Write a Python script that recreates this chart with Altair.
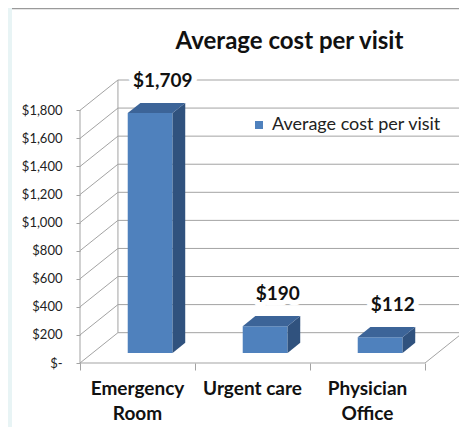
import altair as alt
import pandas as pd

# ---- data ----
CATEGORIES = ["Emergency Room", "Urgent care", "Physician Office"]
CAT_LINES = ["Emergency|Room", "Urgent care", "Physician|Office"]
VALUES = [1709, 190, 112]
VALUE_LABELS = ["$1,709", "$190", "$112"]
Y_TICKS = [0, 200, 400, 600, 800, 1000, 1200, 1400, 1600, 1800]
SERIES = "Average cost per visit"
TITLE = "Average cost per visit"

# ---- 3-D geometry (depth offsets in data units) ----
DX = 0.33        # depth shift along x, in category units
DY = 216         # depth shift along y, in value units
HALF = 0.195     # half bar width, in category units
N = len(CATEGORIES)
YMAX = Y_TICKS[-1]

FRONT = "#4f81bd"
SIDE = "#30527e"
TOP = "#3c6498"
GRID = "#a3a3a3"
PAGE = "#e8f4f5"
FONT = "Lato"

# front faces
front = pd.DataFrame({
    "cat": CATEGORIES,
    "series": [SERIES] * N,
    "x0": [i + 0.5 - HALF + DX / 3 for i in range(N)],
    "x1": [i + 0.5 + HALF + DX / 3 for i in range(N)],
    "y0": [DY / 3] * N,
    "y1": [v + DY / 3 for v in VALUES],
})

# side faces (vertical-orient areas)
side_rows = []
for i, (c, v) in enumerate(zip(CATEGORIES, VALUES)):
    xr = i + 0.5 + HALF + DX / 3
    side_rows.append({"cat": c, "x": xr, "yb": DY / 3, "yt": v + DY / 3})
    side_rows.append({"cat": c, "x": xr + DX / 3, "yb": 2 * DY / 3, "yt": v + 2 * DY / 3})
side = pd.DataFrame(side_rows)

# top faces (horizontal-orient areas)
top_rows = []
for i, (c, v) in enumerate(zip(CATEGORIES, VALUES)):
    xl = i + 0.5 - HALF + DX / 3
    xr = i + 0.5 + HALF + DX / 3
    top_rows.append({"cat": c, "y": v + DY / 3, "xl": xl, "xr": xr})
    top_rows.append({"cat": c, "y": v + 2 * DY / 3, "xl": xl + DX / 3, "xr": xr + DX / 3})
top = pd.DataFrame(top_rows)

# wall / floor lines
line_rows = []
for t in Y_TICKS:
    line_rows.append({"x": DX, "y": t + DY, "x2": N + DX, "y2": t + DY})   # back wall grid
    line_rows.append({"x": 0, "y": t, "x2": DX, "y2": t + DY})             # side wall grid
line_rows.append({"x": DX, "y": DY, "x2": DX, "y2": YMAX + DY})            # back wall left edge
line_rows.append({"x": N + DX, "y": DY, "x2": N + DX, "y2": YMAX + DY})    # back wall right edge
line_rows.append({"x": 0, "y": 0, "x2": 0, "y2": YMAX})                    # front axis
line_rows.append({"x": 0, "y": 0, "x2": N, "y2": 0})                       # floor front
line_rows.append({"x": N, "y": 0, "x2": N + DX, "y2": DY})                 # floor right
lines = pd.DataFrame(line_rows)

labels = pd.DataFrame({
    "x": [i + 0.5 + 2 * DX / 3 for i in range(N)],
    "y": [v + 2 * DY / 3 for v in VALUES],
    "txt": VALUE_LABELS,
})

cats = pd.DataFrame({"x": [i + 0.5 for i in range(N)], "lbl": CAT_LINES})

xscale = alt.Scale(domain=[0, N], nice=False, zero=False)
yscale = alt.Scale(domain=[0, YMAX + DY], nice=False, zero=False)
xaxis = alt.Axis(values=list(range(N + 1)), labels=False, title=None, domain=False,
                 grid=False, ticks=True, tickSize=7, tickColor=GRID)
yaxis = alt.Axis(values=Y_TICKS, title=None, domain=False, grid=False, ticks=True,
                 tickSize=4, tickColor=GRID, labelPadding=14, labelFont=FONT,
                 labelFontSize=13, labelColor="#222222",
                 labelExpr="datum.value == 0 ? '$-' : '$' + format(datum.value, ',')")


def X(f):
    return alt.X(f, type="quantitative", scale=xscale, axis=xaxis)


def Y(f):
    return alt.Y(f, type="quantitative", scale=yscale, axis=yaxis)


# page-style frame: light strip on the left and thin border on top
frame_strip = alt.Chart(pd.DataFrame({"k": [0]})).mark_rect(color=PAGE).encode(
    x=alt.value(-72), x2=alt.value(-68), y=alt.value(-72), y2=alt.value(347))
frame_top = alt.Chart(pd.DataFrame({"k": [0]})).mark_rule(color="#9a9a9a", strokeWidth=1.5).encode(
    x=alt.value(-68), x2=alt.value(380), y=alt.value(-71.5))

grid_layer = alt.Chart(lines).mark_rule(color=GRID, strokeWidth=1).encode(
    x=X("x"), y=Y("y"), x2="x2", y2="y2")

front_layer = alt.Chart(front).mark_rect(stroke=None).encode(
    x=X("x0"), x2="x1", y=Y("y0"), y2="y1",
    color=alt.Color("series:N", scale=alt.Scale(domain=[SERIES], range=[FRONT]),
                    legend=alt.Legend(title=None, orient="none", legendX=170, legendY=36,
                                      symbolType="square", symbolSize=64,
                                      symbolStrokeWidth=0, labelFont=FONT,
                                      labelFontSize=18, labelColor="#222222",
                                      labelLimit=400, padding=0, fillColor="white")))

side_layer = alt.Chart(side).mark_area(color=SIDE, orient="vertical").encode(
    x=X("x"), y=Y("yb"), y2="yt", detail="cat:N")

top_layer = alt.Chart(top).mark_area(color=TOP, orient="horizontal").encode(
    y=Y("y"), x=X("xl"), x2="xr", detail="cat:N")

label_bg = alt.Chart(labels).mark_text(
    font=FONT, fontSize=19, fontWeight="bold", dy=-22, color="white",
    stroke="white", strokeWidth=11, strokeJoin="round").encode(
    x=X("x"), y=Y("y"), text="txt:N")

label_layer = alt.Chart(labels).mark_text(
    font=FONT, fontSize=19, fontWeight="bold", dy=-22, color="#111111").encode(
    x=X("x"), y=Y("y"), text="txt:N")

cat_layer = alt.Chart(cats).transform_calculate(
    lines="split(datum.lbl, '|')").mark_text(
    font=FONT, fontSize=19, fontWeight="bold", baseline="top", dy=17,
    lineHeight=25, color="#111111").encode(
    x=X("x"), y=alt.Y(datum=0, type="quantitative", scale=yscale, axis=yaxis),
    text="lines:N")

chart = alt.layer(frame_strip, frame_top, grid_layer, front_layer, side_layer, top_layer,
                  label_bg, label_layer, cat_layer).properties(
    width=345, height=283,
    title=alt.TitleParams(TITLE, font=FONT, fontSize=24, fontWeight="bold",
                          color="#111111", anchor="middle", dx=37, dy=50),
    autosize=alt.AutoSizeParams(type="none"),
    padding={"left": 72, "top": 72, "right": 34, "bottom": 64},
    background="white",
).configure_view(stroke=None)

chart.save("out.html", embed_options={"renderer": "svg", "actions": False})
